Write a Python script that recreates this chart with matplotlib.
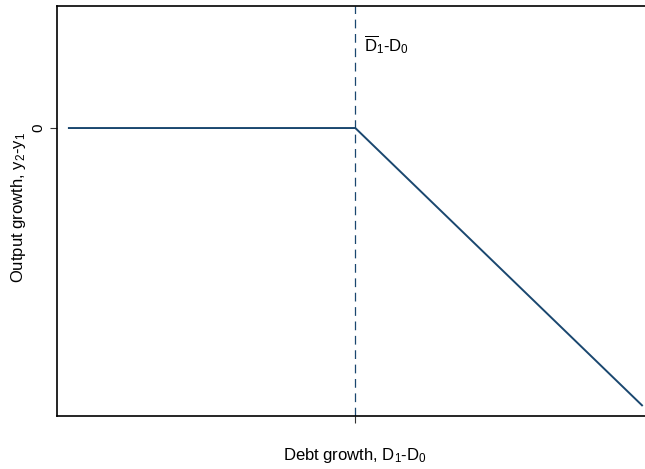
import matplotlib
matplotlib.use("Agg")
import matplotlib.pyplot as plt

# kinked relation between debt growth and output growth
debt_growth = [-1.0, 0.0, 1.0]
output_growth = [0.0, 0.0, -1.0]
threshold = 0.0
ytick_vals = [0]
ytick_labels = ["0"]

plt.rcParams["font.family"] = ["Liberation Sans", "DejaVu Sans"]
plt.rcParams["mathtext.default"] = "regular"

navy = "#1a476f"

fig = plt.figure(figsize=(6.45, 4.69), dpi=100)
ax = fig.add_axes([57 / 645, 53 / 469, 1 - 57 / 645, 410 / 469])

ax.plot(debt_growth, output_growth, color=navy, lw=1.4, solid_capstyle="butt")
ax.axvline(threshold, color=navy, lw=0.9, ls=(0, (7, 4.5)))

ax.set_xlim(-1.038, 1.008)
ax.set_ylim(-1.036, 0.439)

ax.set_xticks([threshold])
ax.set_xticklabels([""])
ax.set_yticks(ytick_vals)
ax.set_yticklabels(ytick_labels, rotation=90, va="center", fontsize=11)
ax.tick_params(length=5, width=0.8, color="#333333")

for s in ax.spines.values():
    s.set_linewidth(1.2)
ax.spines["right"].set_visible(False)

ax.text(threshold + 0.03, 0.30, r"$\overline{D}_1$-D$_0$", fontsize=12,
        ha="left", va="center")

fig.text(355 / 645, 1 - 455 / 469, "Debt growth, D$_1$-D$_0$", fontsize=12,
         ha="center", va="center")
fig.text(19 / 645, 1 - 208 / 469, "Output growth, y$_2$-y$_1$", fontsize=12,
         ha="center", va="center", rotation=90)

fig.savefig("out.png", dpi=100)
